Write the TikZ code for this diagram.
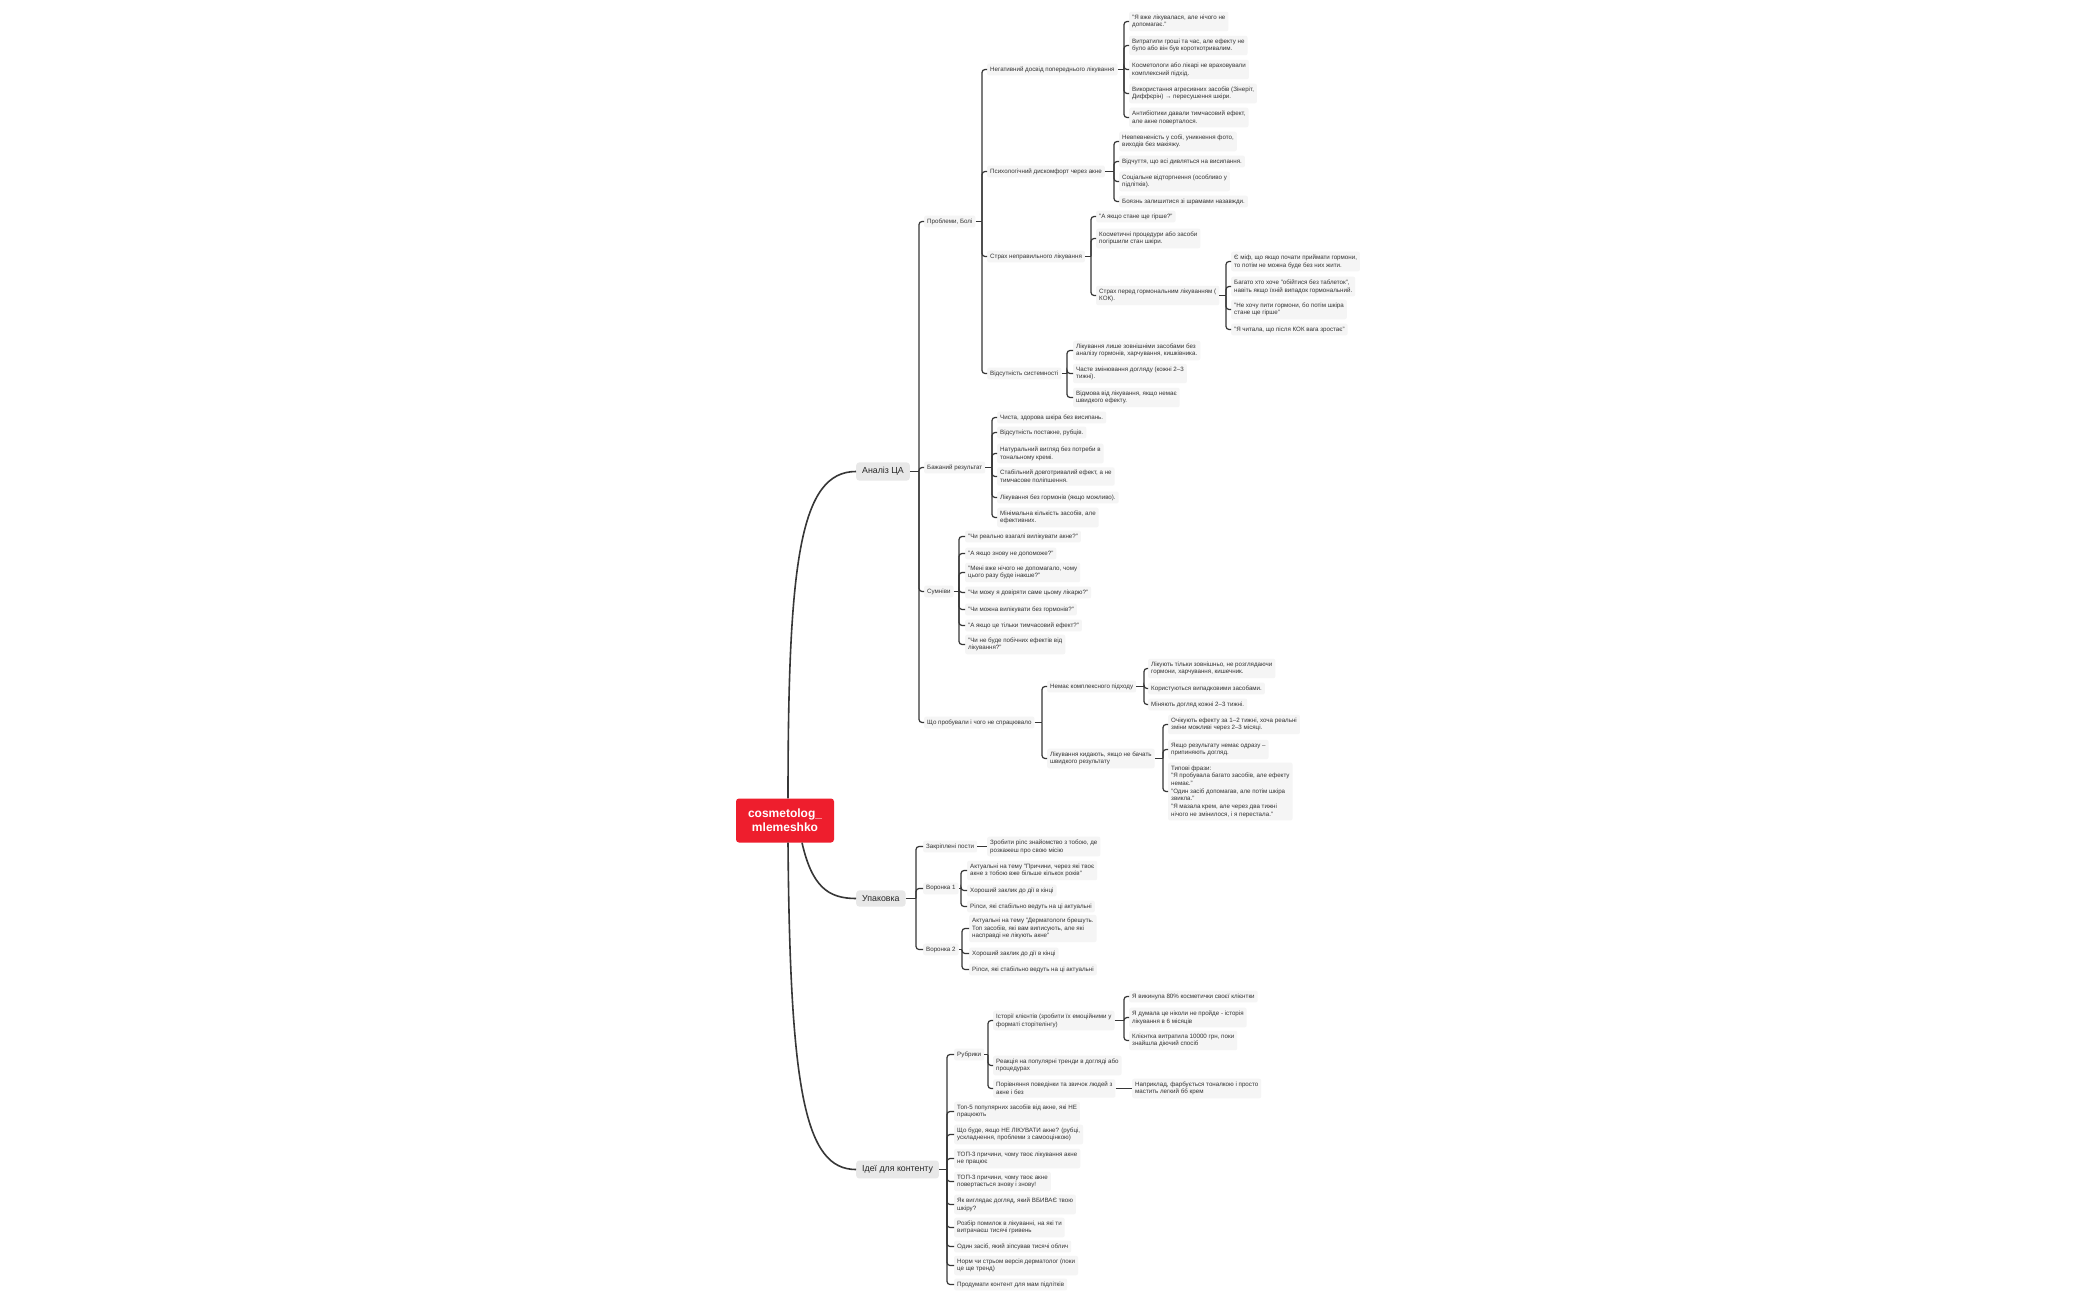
\documentclass[tikz,border=0pt]{standalone}
\usepackage{fontspec}
\setmainfont{Liberation Sans}
\usepackage{xcolor}
\usepackage{tikz}
\definecolor{mindred}{RGB}{238, 30, 45}
\definecolor{leafgray}{RGB}{245, 245, 245}
\definecolor{topicgray}{RGB}{232, 232, 232}
\definecolor{linkgray}{RGB}{55, 55, 55}
\tikzset{
  leaf/.style={fill=leafgray, rounded corners=2pt, inner xsep=3pt, inner ysep=3pt,
    align=left, anchor=west, text=black!80, font=\fontsize{6.2}{7.7}\selectfont},
  topic/.style={fill=topicgray, rounded corners=3pt, inner xsep=6pt, inner ysep=5pt,
    anchor=west, text=black!85, font=\fontsize{8.8}{10}\selectfont},
  rootbox/.style={fill=mindred, rounded corners=3pt, minimum width=98pt, minimum height=44pt,
    align=center, text=white, font=\fontsize{12}{14}\selectfont\bfseries},
  link/.style={draw=linkgray, line width=1.2pt, rounded corners=3pt},
  trunk/.style={draw=linkgray, line width=1.6pt}
}

\begin{document}
\begin{tikzpicture}[x=1pt, y=-1pt]
  \fill[white] (0,-1.5) rectangle (2100,1298.5);
  \useasboundingbox (0,-1.5) rectangle (2100,1298.5);

  % root and main branches
  \node[rootbox] (root) at (785,819) {cosmetolog\_\\mlemeshko};
  \node[topic] (ca) at (856,470) {Аналіз ЦА};
  \node[topic] (upak) at (856,897) {Упаковка};
  \node[topic] (idei) at (856,1168) {Ідеї для контенту};

  \draw[trunk] ([xshift=3pt]root.north) .. controls (788,560) and (800,470) .. (ca.west);
  \draw[trunk] ([xshift=17pt]root.south) .. controls (812,885) and (828,897) .. (upak.west);
  \draw[trunk] ([xshift=3pt]root.south) .. controls (790,1090) and (805,1168) .. (idei.west);

  % Аналіз ЦА
  \node[leaf] (pain) at (924,220) {Проблеми, Болі};
  \node[leaf] (want) at (924,466) {Бажаний результат};
  \node[leaf] (doubt) at (924,590) {Сумніви};
  \node[leaf] (tried) at (924,721) {Що пробували і чого не спрацювало};

  \node[leaf] (neg) at (987,68) {Негативний досвід попереднього лікування};
  \node[leaf] (psy) at (987,170) {Психологічний дискомфорт через акне};
  \node[leaf] (fear) at (987,255) {Страх неправильного лікування};
  \node[leaf] (nosys) at (987,372) {Відсутність системності};

  \node[leaf] (n1) at (1129,20) {"Я вже лікувалася, але нічого не\\допомагає."};
  \node[leaf] (n2) at (1129,44) {Витратили гроші та час, але ефекту не\\було або він був короткотривалим.};
  \node[leaf] (n3) at (1129,68) {Косметологи або лікарі не враховували\\комплексний підхід.};
  \node[leaf] (n4) at (1129,92) {Використання агресивних засобів (Зінеріт,\\Диффєрін) → пересушення шкіри.};
  \node[leaf] (n5) at (1129,116) {Антибіотики давали тимчасовий ефект,\\але акне поверталося.};

  \node[leaf] (p1) at (1119,140) {Невпевненість у собі, уникнення фото,\\виходів без макіяжу.};
  \node[leaf] (p2) at (1119,160) {Відчуття, що всі дивляться на висипання.};
  \node[leaf] (p3) at (1119,180) {Соціальне відторгнення (особливо у\\підлітків).};
  \node[leaf] (p4) at (1119,200) {Боязнь залишитися зі шрамами назавжди.};

  \node[leaf] (f1) at (1096,215) {"А якщо стане ще гірше?"};
  \node[leaf] (f2) at (1096,237) {Косметичні процедури або засоби\\погіршили стан шкіри.};
  \node[leaf] (f3) at (1096,294) {Страх перед гормональним лікуванням (\\КОК).};

  \node[leaf] (h1) at (1231,260) {Є міф, що якщо почати приймати гормони,\\то потім не можна буде без них жити.};
  \node[leaf] (h2) at (1231,285) {Багато хто хоче "обійтися без таблеток",\\навіть якщо їхній випадок гормональний.};
  \node[leaf] (h3) at (1231,308) {"Не хочу пити гормони, бо потім шкіра\\стане ще гірше"};
  \node[leaf] (h4) at (1231,328) {"Я читала, що після КОК вага зростає"};

  \node[leaf] (s1) at (1073,349) {Лікування лише зовнішніми засобами без\\аналізу гормонів, харчування, кишківника.};
  \node[leaf] (s2) at (1073,372) {Часте змінювання догляду (кожні 2–3\\тижні).};
  \node[leaf] (s3) at (1073,396) {Відмова від лікування, якщо немає\\швидкого ефекту.};

  \node[leaf] (w1) at (997,416) {Чиста, здорова шкіра без висипань.};
  \node[leaf] (w2) at (997,431) {Відсутність постакне, рубців.};
  \node[leaf] (w3) at (997,452) {Натуральний вигляд без потреби в\\тональному кремі.};
  \node[leaf] (w4) at (997,475) {Стабільний довготривалий ефект, а не\\тимчасове поліпшення.};
  \node[leaf] (w5) at (997,496) {Лікування без гормонів (якщо можливо).};
  \node[leaf] (w6) at (997,516) {Мінімальна кількість засобів, але\\ефективних.};

  \node[leaf] (d1) at (965,535) {"Чи реально взагалі вилікувати акне?"};
  \node[leaf] (d2) at (965,552) {"А якщо знову не допоможе?"};
  \node[leaf] (d3) at (965,571) {"Мені вже нічого не допомагало, чому\\цього разу буде інакше?"};
  \node[leaf] (d4) at (965,591) {"Чи можу я довіряти саме цьому лікарю?"};
  \node[leaf] (d5) at (965,608) {"Чи можна вилікувати без гормонів?"};
  \node[leaf] (d6) at (965,624) {"А якщо це тільки тимчасовий ефект?"};
  \node[leaf] (d7) at (965,643) {"Чи не буде побічних ефектів від\\лікування?"};

  \node[leaf] (t1) at (1047,685) {Немає комплексного підходу};
  \node[leaf] (t2) at (1047,757) {Лікування кидають, якщо не бачать\\швидкого результату};

  \node[leaf] (k1) at (1148,667) {Лікують тільки зовнішньо, не розглядаючи\\гормони, харчування, кишечник.};
  \node[leaf] (k2) at (1148,687) {Користуються випадковими засобами.};
  \node[leaf] (k3) at (1148,703) {Міняють догляд кожні 2–3 тижні.};

  \node[leaf] (q1) at (1168,723) {Очікують ефекту за 1–2 тижні, хоча реальні\\зміни можливі через 2–3 місяці.};
  \node[leaf] (q2) at (1168,748) {Якщо результату немає одразу –\\припиняють догляд.};
  \node[leaf] (q3) at (1168,790) {Типові фрази:\\"Я пробувала багато засобів, але ефекту\\немає."\\"Один засіб допомагав, але потім шкіра\\звикла."\\"Я мазала крем, але через два тижні\\нічого не змінилося, і я перестала."};

  \coordinate (jca) at (919,470);
  \coordinate (jpain) at (982,220);
  \coordinate (jneg) at (1124,68);
  \coordinate (jpsy) at (1114,170);
  \coordinate (jfear) at (1091,255);
  \coordinate (jf3) at (1226,294);
  \coordinate (jnosys) at (1067,372);
  \coordinate (jwant) at (992,466);
  \coordinate (jdoubt) at (959,590);
  \coordinate (jtried) at (1042,721);
  \coordinate (jt1) at (1144,685);
  \coordinate (jt2) at (1163,757);

  \draw[link] (ca.east) -- (jca);
  \foreach \c in {pain,want,doubt,tried} \draw[link] (jca) |- (\c.west);
  \draw[link] (pain.east) -- (jpain);
  \foreach \c in {neg,psy,fear,nosys} \draw[link] (jpain) |- (\c.west);
  \draw[link] (neg.east) -- (jneg);
  \foreach \c in {n1,n2,n3,n4,n5} \draw[link] (jneg) |- (\c.west);
  \draw[link] (psy.east) -- (jpsy);
  \foreach \c in {p1,p2,p3,p4} \draw[link] (jpsy) |- (\c.west);
  \draw[link] (fear.east) -- (jfear);
  \foreach \c in {f1,f2,f3} \draw[link] (jfear) |- (\c.west);
  \draw[link] (f3.east) -- (jf3);
  \foreach \c in {h1,h2,h3,h4} \draw[link] (jf3) |- (\c.west);
  \draw[link] (nosys.east) -- (jnosys);
  \foreach \c in {s1,s2,s3} \draw[link] (jnosys) |- (\c.west);
  \draw[link] (want.east) -- (jwant);
  \foreach \c in {w1,w2,w3,w4,w5,w6} \draw[link] (jwant) |- (\c.west);
  \draw[link] (doubt.east) -- (jdoubt);
  \foreach \c in {d1,d2,d3,d4,d5,d6,d7} \draw[link] (jdoubt) |- (\c.west);
  \draw[link] (tried.east) -- (jtried);
  \foreach \c in {t1,t2} \draw[link] (jtried) |- (\c.west);
  \draw[link] (t1.east) -- (jt1);
  \foreach \c in {k1,k2,k3} \draw[link] (jt1) |- (\c.west);
  \draw[link] (t2.east) -- (jt2);
  \foreach \c in {q1,q2,q3} \draw[link] (jt2) |- (\c.west);

  % Упаковка
  \node[leaf] (pin) at (923,845) {Закріплені пости};
  \node[leaf] (v1) at (923,887) {Воронка 1};
  \node[leaf] (v2) at (923,948) {Воронка 2};
  \node[leaf] (pinr) at (987,845) {Зробити рілс знайомство з тобою, де\\розкажеш про свою місію};

  \node[leaf] (a1) at (967,869) {Актуальні на тему "Причини, через які твоє\\акне з тобою вже більше кількох років"};
  \node[leaf] (a2) at (967,889) {Хороший заклик до дії в кінці};
  \node[leaf] (a3) at (967,905) {Рілси, які стабільно ведуть на ці актуальні};

  \node[leaf] (b1) at (969,927) {Актуальні на тему "Дерматологи брешуть.\\Топ засобів, які вам виписують, але які\\насправді не лікують акне"};
  \node[leaf] (b2) at (969,952) {Хороший заклик до дії в кінці};
  \node[leaf] (b3) at (969,968) {Рілси, які стабільно ведуть на ці актуальні};

  \coordinate (jupak) at (916,897);
  \coordinate (jv1) at (961,887);
  \coordinate (jv2) at (962,948);

  \draw[link] (upak.east) -- (jupak);
  \foreach \c in {pin,v1,v2} \draw[link] (jupak) |- (\c.west);
  \draw[link] (pin.east) -- (pinr.west);
  \draw[link] (v1.east) -- (jv1);
  \foreach \c in {a1,a2,a3} \draw[link] (jv1) |- (\c.west);
  \draw[link] (v2.east) -- (jv2);
  \foreach \c in {b1,b2,b3} \draw[link] (jv2) |- (\c.west);

  % Ідеї для контенту
  \node[leaf] (rub) at (954,1053) {Рубрики};
  \node[leaf] (i1) at (954,1110) {Топ-5 популярних засобів від акне, які НЕ\\працюють};
  \node[leaf] (i2) at (954,1133) {Що буде, якщо НЕ ЛІКУВАТИ акне? (рубці,\\ускладнення, проблеми з самооцінкою)};
  \node[leaf] (i3) at (954,1157) {ТОП-3 причини, чому твоє лікування акне\\не працює};
  \node[leaf] (i4) at (954,1180) {ТОП-3 причини, чому твоє акне\\повертається знову і знову!};
  \node[leaf] (i5) at (954,1203) {Як виглядає догляд, який ВБИВАЄ твою\\шкіру?};
  \node[leaf] (i6) at (954,1226) {Розбір помилок в лікуванні, на які ти\\витрачаєш тисячі гривень};
  \node[leaf] (i7) at (954,1245) {Один засіб, який зіпсував тисячі облич};
  \node[leaf] (i8) at (954,1264) {Норм чи стрьом версія дерматолог (поки\\це ще тренд)};
  \node[leaf] (i9) at (954,1283) {Продумати контент для мам підлітків};

  \node[leaf] (r1) at (993,1019) {Історії клієнтів (зробити їх емоційними у\\форматі сторітелінгу)};
  \node[leaf] (r2) at (993,1064) {Реакція на популярні тренди в догляді або\\процедурах};
  \node[leaf] (r3) at (993,1087) {Порівняння поведінки та звичок людей з\\акне і без};
  \node[leaf] (r3x) at (1132,1087) {Наприклад, фарбується тоналкою і просто\\мастить легкий бб крем};

  \node[leaf] (c1) at (1129,995) {Я викинула 80\% косметички своєї клієнтки};
  \node[leaf] (c2) at (1129,1016) {Я думала це ніколи не пройде - історія\\лікування в 6 місяців};
  \node[leaf] (c3) at (1129,1039) {Клієнтка витратила 10000 грн, поки\\знайшла діючий спосіб};

  \coordinate (jidei) at (947,1168);
  \coordinate (jrub) at (988,1053);
  \coordinate (jr1) at (1124,1019);

  \draw[link] (idei.east) -- (jidei);
  \foreach \c in {rub,i1,i2,i3,i4,i5,i6,i7,i8,i9} \draw[link] (jidei) |- (\c.west);
  \draw[link] (rub.east) -- (jrub);
  \foreach \c in {r1,r2,r3} \draw[link] (jrub) |- (\c.west);
  \draw[link] (r1.east) -- (jr1);
  \foreach \c in {c1,c2,c3} \draw[link] (jr1) |- (\c.west);
  \draw[link] (r3.east) -- (r3x.west);
\end{tikzpicture}
\end{document}
